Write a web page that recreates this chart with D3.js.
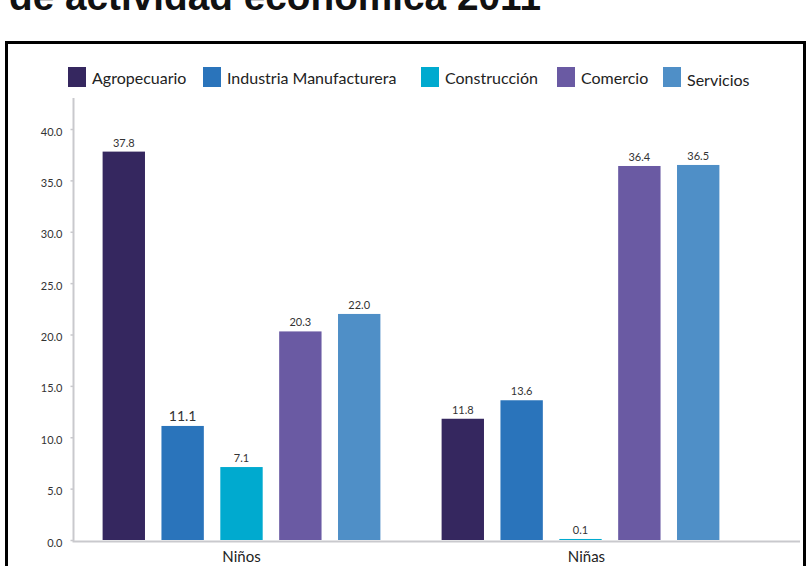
<!DOCTYPE html>
<html>
<head>
<meta charset="utf-8">
<script src="https://cdn.jsdelivr.net/npm/d3@7"></script>
<style>
  html, body { margin: 0; padding: 0; background: #fff; }
  svg { display: block; }
</style>
</head>
<body>
<svg id="chart" width="807" height="566"></svg>
<script>
// ---- data ----
const groups = ["Niños", "Niñas"];
const series = ["Agropecuario", "Industria Manufacturera", "Construcción", "Comercio", "Servicios"];
const ninosValues = [37.8, 11.1, 7.1, 20.3, 22.0];
const ninasValues = [11.8, 13.6, 0.1, 36.4, 36.5];
const colors = ["#35275f", "#2a74bb", "#00aacf", "#6a5aa3", "#4f8fc7"];
const yTicks = [0, 5, 10, 15, 20, 25, 30, 35, 40];
const titleText = "de actividad económica 2011";

const valuesByGroup = { "Niños": ninosValues, "Niñas": ninasValues };

const svg = d3.select("#chart");
const font = "Lato, 'Open Sans', sans-serif";

// title (cut off at the top, as in the reference)
svg.append("text")
  .attr("x", 9).attr("y", 10)
  .attr("font-family", "'Liberation Sans', Arial, sans-serif")
  .attr("font-weight", "bold")
  .attr("font-size", 39)
  .attr("textLength", 532)
  .attr("lengthAdjust", "spacingAndGlyphs")
  .attr("fill", "#111")
  .text(titleText);

// frame
svg.append("rect")
  .attr("x", 6.5).attr("y", 42.5)
  .attr("width", 798).attr("height", 540)
  .attr("fill", "none").attr("stroke", "#000").attr("stroke-width", 3);

// scales
const y = d3.scaleLinear().domain([0, 40]).range([540, 129]);
const x0 = d3.scaleBand().domain(groups).range([72, 750]);
const x1 = d3.scaleBand().domain(series).range([0, x0.bandwidth()])
  .paddingInner(0.28).paddingOuter(0.52);
const color = d3.scaleOrdinal().domain(series).range(colors);

// y axis
const axisX = 73.5;
const yAxis = svg.append("g")
  .attr("transform", `translate(${axisX},0)`)
  .call(d3.axisLeft(y).tickValues(yTicks).tickFormat(d3.format(".1f")).tickSize(3).tickPadding(8));
yAxis.select(".domain").remove();
yAxis.selectAll(".tick line").attr("stroke", "#c9c9cd").attr("stroke-width", 1.5);
yAxis.selectAll(".tick text")
  .attr("dy", "0.55em")
  .attr("font-family", font).attr("font-size", 11).attr("fill", "#333");
svg.append("line")
  .attr("x1", axisX).attr("x2", axisX)
  .attr("y1", 98).attr("y2", y(0) + 1)
  .attr("stroke", "#c9c9cd").attr("stroke-width", 2);

// bars
const gGroups = svg.append("g").selectAll("g")
  .data(groups).join("g")
  .attr("transform", d => `translate(${x0(d)},0)`);

gGroups.selectAll("rect")
  .data(g => series.map((s, i) => ({ g, s, v: valuesByGroup[g][i] })))
  .join("rect")
  .attr("x", d => x1(d.s))
  .attr("width", x1.bandwidth())
  .attr("y", d => y(d.v))
  .attr("height", d => y(0) - y(d.v))
  .attr("fill", d => color(d.s));

gGroups.selectAll("text.val")
  .data(g => series.map((s, i) => ({ g, s, v: valuesByGroup[g][i] })))
  .join("text")
  .attr("class", "val")
  .attr("x", d => x1(d.s) + x1.bandwidth() / 2)
  .attr("y", d => y(d.v) - 5)
  .attr("text-anchor", "middle")
  .attr("font-family", font)
  .attr("font-size", d => (d.g === "Niños" && d.s === "Industria Manufacturera") ? 14 : 11)
  .attr("fill", "#333")
  .text(d => d3.format(".1f")(d.v));

// x axis line
svg.append("line")
  .attr("x1", axisX - 1).attr("x2", 800)
  .attr("y1", y(0) + 1.5).attr("y2", y(0) + 1.5)
  .attr("stroke", "#c9c9cd").attr("stroke-width", 2);

// category labels
svg.append("g").selectAll("text")
  .data(groups).join("text")
  .attr("x", d => x0(d) + x0.bandwidth() / 2 + (d === "Niñas" ? 6 : 0))
  .attr("y", 562)
  .attr("text-anchor", "middle")
  .attr("font-family", font)
  .attr("font-size", 15)
  .attr("fill", "#222")
  .text(d => d);

// legend
const legendX = [68, 203, 421, 557, 663];
const legend = svg.append("g").selectAll("g")
  .data(series).join("g")
  .attr("transform", (d, i) => `translate(${legendX[i]},67)`);
legend.append("rect")
  .attr("width", 18).attr("height", 20)
  .attr("fill", d => color(d));
legend.append("text")
  .attr("x", 24).attr("y", 17)
  .attr("dy", (d, i) => i === 4 ? 2 : 0)
  .attr("font-family", font)
  .attr("font-size", 16)
  .attr("fill", "#222")
  .text(d => d);
</script>
</body>
</html>
